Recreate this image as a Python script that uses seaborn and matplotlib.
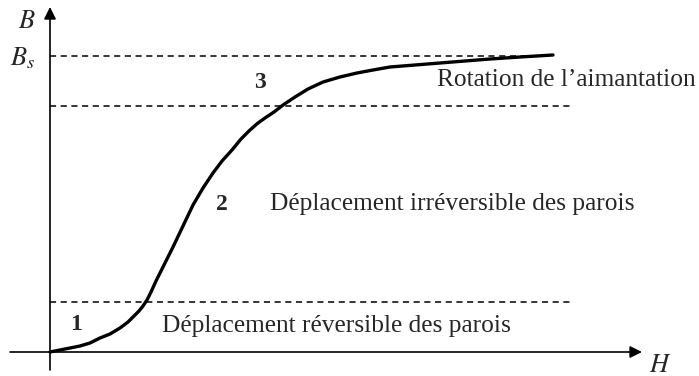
import numpy as np
import pandas as pd
import seaborn as sns
import matplotlib.pyplot as plt

# Magnetization curve B(H), arbitrary units (origin at 0,0)
H = [0, 15, 30, 40, 50, 60, 70, 78, 84, 89, 93, 97, 101, 106, 113, 123, 133, 143, 153, 163, 172,
     182, 191, 200, 208, 215, 224, 233, 245, 258, 273, 290, 307, 323, 340, 365, 390, 415, 440, 470, 503]
B = [0, 3, 6, 9, 14, 18, 24, 30, 36, 41, 46, 52, 60, 71, 85, 105, 126, 147, 164, 179, 191,
     202, 213, 222, 229, 234, 240, 247, 255, 263, 270, 275, 279, 282, 285, 287, 289, 291, 293, 295, 297]

# levels of the dashed lines (Bs, end of region 2, end of region 1)
levels = [296, 246, 50]
level_ends = [500, 520, 520]

# region labels
region_nums = ["1", "2", "3"]
num_pos = [(26, 27), (172, 147), (210, 269)]
region_texts = ["Déplacement réversible des parois",
                "Déplacement irréversible des parois",
                "Rotation de l\u2019aimantation"]
text_pos = [(112, 26), (220, 148), (387, 272)]

sns.set_theme(style="white")
plt.rcParams['font.family'] = ['Liberation Serif', 'DejaVu Serif']
plt.rcParams['mathtext.fontset'] = 'stix'

fig = plt.figure(figsize=(6.99, 3.76), dpi=100)
ax = fig.add_axes([0, 0, 1, 1])

df = pd.DataFrame({"H": H, "B": B})
sns.lineplot(data=df, x="H", y="B", sort=False, color="black", linewidth=2.4, ax=ax,
             solid_joinstyle="round", solid_capstyle="round")

for lv, end in zip(levels, level_ends):
    ax.hlines(lv, 0, end, colors="black", linestyles=(0, (4, 3)), linewidth=1.1)

# axes with arrows
ax.annotate("", xy=(592, 0), xytext=(-40, 0),
            arrowprops=dict(arrowstyle="-|>", color="black", lw=1.2, mutation_scale=18, shrinkA=0, shrinkB=0))
ax.annotate("", xy=(0, 345), xytext=(0, -18),
            arrowprops=dict(arrowstyle="-|>", color="black", lw=1.2, mutation_scale=18, shrinkA=0, shrinkB=0))

ax.text(-23, 330, "$B$", fontsize=19, ha="center", va="center")
ax.text(-27, 294, "$B_s$", fontsize=19, ha="center", va="center")
ax.text(610, -14, "$H$", fontsize=19, ha="center", va="center")

for t, (x, y) in zip(region_nums, num_pos):
    ax.text(x, y, t, fontsize=17, fontweight="bold", ha="center", va="center")
for t, (x, y) in zip(region_texts, text_pos):
    ax.text(x, y, t, fontsize=18.3, ha="left", va="center")

ax.set_xlim(-50, 649)
ax.set_ylim(-24, 352)
ax.axis("off")

fig.savefig("out.png", dpi=100)
